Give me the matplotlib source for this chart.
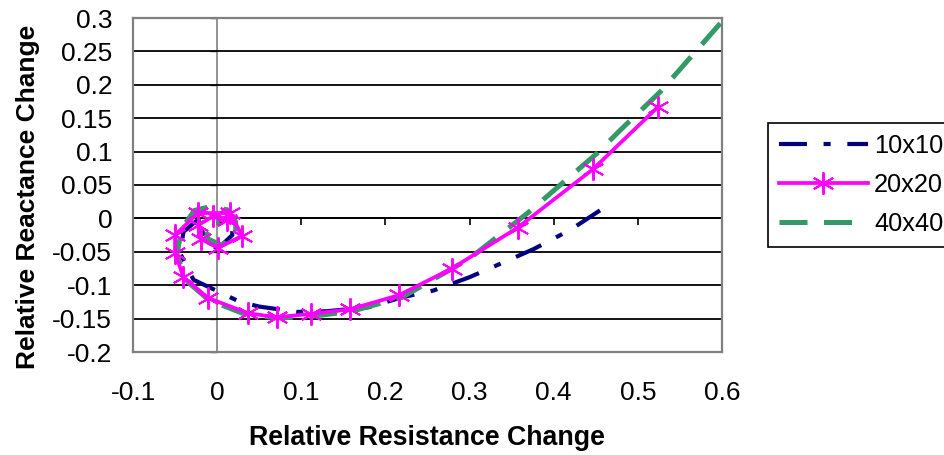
import matplotlib
matplotlib.use("Agg")
import matplotlib.pyplot as plt
import numpy as np

plt.rcParams['font.family'] = ['Liberation Sans', 'DejaVu Sans']

# ---- data ----
series_names = ["10x10", "20x20", "40x40"]

x10 = [0.455, 0.420, 0.376, 0.340, 0.300, 0.257, 0.220, 0.180, 0.130, 0.095, 0.050, 0.027,
       0.004, -0.028, -0.044, -0.040, -0.025, 0.000, 0.018, 0.018, 0.001, -0.015, -0.018, -0.005]
y10 = [0.012, -0.017, -0.046, -0.066, -0.088, -0.108, -0.118, -0.133, -0.139, -0.140, -0.132, -0.125,
       -0.111, -0.092, -0.052, -0.020, -0.004, -0.003, -0.006, -0.025, -0.045, -0.035, -0.015, -0.008]

x20 = [0.524, 0.447, 0.357, 0.279, 0.216, 0.158, 0.111, 0.071, 0.037, -0.011, -0.040, -0.050,
       -0.050, -0.023, 0.015, 0.030, 0.001, -0.019, -0.023, -0.005, 0.012]
y20 = [0.167, 0.074, -0.014, -0.075, -0.115, -0.136, -0.143, -0.148, -0.142, -0.119, -0.088, -0.052,
       -0.025, 0.008, 0.008, -0.026, -0.044, -0.031, -0.010, 0.003, -0.002]

x40 = [0.598, 0.527, 0.479, 0.452, 0.369, 0.300, 0.220, 0.160, 0.110, 0.070, 0.030, -0.010,
       -0.035, -0.048, -0.042, -0.027, -0.010, 0.012, 0.022, 0.022, 0.005, -0.012, -0.012, 0.003]
y40 = [0.292, 0.190, 0.132, 0.098, 0.008, -0.060, -0.118, -0.139, -0.147, -0.149, -0.142, -0.122,
       -0.095, -0.055, -0.015, 0.012, 0.017, 0.013, -0.005, -0.028, -0.040, -0.030, -0.010, -0.005]

x_ticks = [-0.1, 0.0, 0.1, 0.2, 0.3, 0.4, 0.5, 0.6]
x_tick_labels = ["-0.1", "0", "0.1", "0.2", "0.3", "0.4", "0.5", "0.6"]
y_ticks = [-0.2, -0.15, -0.1, -0.05, 0.0, 0.05, 0.1, 0.15, 0.2, 0.25, 0.3]
y_tick_labels = ["-0.2", "-0.15", "-0.1", "-0.05", "0", "0.05", "0.1", "0.15", "0.2", "0.25", "0.3"]

x_label = "Relative Resistance Change"
y_label = "Relative Reactance Change"

# ---- figure ----
W, H = 944, 455
fig = plt.figure(figsize=(W / 100, H / 100), dpi=100)
ax = fig.add_axes([133 / W, 103 / H, 589 / W, 334 / H])

ax.set_xlim(-0.1, 0.6)
ax.set_ylim(-0.2, 0.3)
ax.set_xticks(x_ticks)
ax.set_xticklabels(x_tick_labels)
ax.set_yticks(y_ticks)
ax.set_yticklabels(y_tick_labels)
ax.tick_params(axis='x', length=0, pad=21, labelsize=19)
ax.tick_params(axis='y', length=0, pad=15, labelsize=19)
ax.yaxis.grid(True, color='black', lw=1.3)
ax.set_axisbelow(True)
for s in ax.spines.values():
    s.set_color('#808080')
    s.set_linewidth(1.6)

# axis lines crossing at zero
secx = ax.secondary_xaxis(0.4)
secx.set_xticks(x_ticks)
secx.tick_params(axis='x', direction='out', length=5, width=1.2, color='black', labelbottom=False, labeltop=False)
secx.spines['bottom'].set_color('black')
secx.spines['bottom'].set_linewidth(1.3)

secy = ax.secondary_yaxis(1 / 7)
secy.set_yticks(y_ticks)
secy.tick_params(axis='y', direction='out', length=5, width=1.0, color='#555555', labelleft=False, labelright=False)
secy.spines['left'].set_color('#808080')
secy.spines['left'].set_linewidth(1.2)

# series
l10, = ax.plot(x10, y10, color='#000080', lw=3.0, dash_capstyle='butt', label=series_names[0], zorder=3)
l10.set_dashes([6.7, 4, 1.7, 4])
l40, = ax.plot(x40, y40, color='#339966', lw=3.6, dash_capstyle='butt', label=series_names[2], zorder=4)
l40.set_dashes([5.6, 3.3])
l20, = ax.plot(x20, y20, color='#FF00FF', lw=2.7, marker=(6, 2, 0), markersize=16,
               markeredgewidth=1.4, markeredgecolor='#FF00FF', label=series_names[1], zorder=5)

leg = fig.legend(handles=[l10, l20, l40], loc='upper left', bbox_to_anchor=(768 / W, 1 - 123 / H),
                 fontsize=18.3, frameon=True, fancybox=False, framealpha=1, edgecolor='black',
                 handlelength=3.5, handletextpad=0.25, labelspacing=0.6, borderpad=0.42,
                 numpoints=1, borderaxespad=0)
leg.get_frame().set_linewidth(1.2)

fig.text(28 / W, 1 - 197 / H, y_label, rotation=90, ha='center', va='center', fontsize=19.0, fontweight='bold')
fig.text(427 / W, 1 - 438 / H, x_label, ha='center', va='center', fontsize=19.3, fontweight='bold')

fig.savefig('out.png', dpi=100)
